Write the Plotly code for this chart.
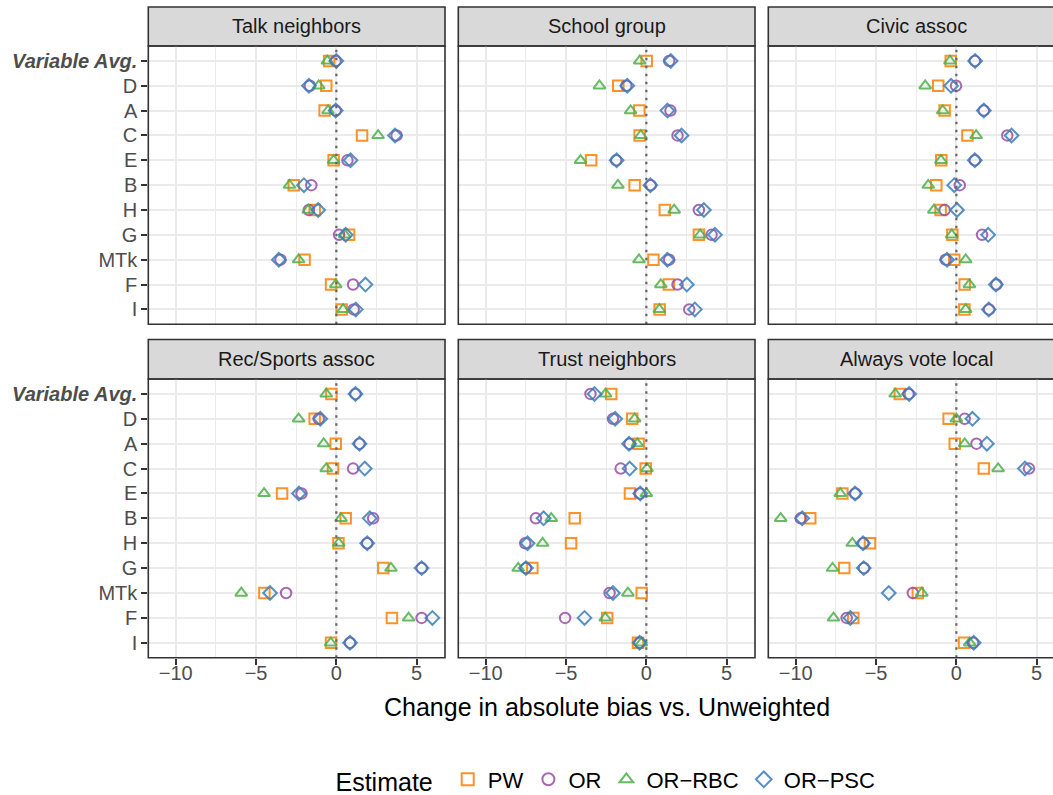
import plotly.graph_objects as go

# ---------------- data ----------------
categories = ["Variable Avg.", "D", "A", "C", "E", "B", "H", "G", "MTk", "F", "I"]
facets = ["Talk neighbors", "School group", "Civic assoc",
          "Rec/Sports assoc", "Trust neighbors", "Always vote local"]
series_names = ["PW", "OR", "OR\u2212RBC", "OR\u2212PSC"]

talk_pw  = [-0.45, -0.63, -0.73, 1.60, -0.17, -2.65, -1.35, 0.79, -1.98, -0.33, 0.33]
talk_or  = [-0.05, -1.65, -0.04, 3.75, 0.69, -1.56, -1.71, 0.17, -3.48, 1.04, 1.08]
talk_rbc = [-0.56, -1.10, -0.52, 2.60, -0.17, -2.92, -1.75, 0.52, -2.35, -0.04, 0.42]
talk_psc = [0.00, -1.71, -0.04, 3.65, 0.88, -2.02, -1.13, 0.58, -3.58, 1.81, 1.21]

school_pw  = [0.02, -1.75, -0.44, -0.42, -3.44, -0.73, 1.15, 3.27, 0.44, 1.40, 0.83]
school_or  = [1.42, -1.25, 1.50, 1.94, -1.88, 0.27, 3.27, 4.06, 1.42, 1.94, 2.67]
school_rbc = [-0.42, -2.92, -0.98, -0.35, -4.10, -1.77, 1.73, 3.35, -0.46, 0.90, 0.81]
school_psc = [1.52, -1.19, 1.31, 2.19, -1.85, 0.25, 3.58, 4.27, 1.31, 2.52, 3.02]

civic_pw  = [-0.35, -1.13, -0.73, 0.69, -0.94, -1.25, -0.98, -0.25, -0.13, 0.52, 0.50]
civic_or  = [1.15, -0.02, 1.71, 3.17, 1.15, 0.21, -0.73, 1.60, -0.67, 2.50, 2.04]
civic_rbc = [-0.40, -1.94, -0.85, 1.23, -0.96, -1.75, -1.40, -0.29, 0.58, 0.81, 0.58]
civic_psc = [1.17, -0.33, 1.71, 3.44, 1.15, -0.13, 0.04, 1.98, -0.58, 2.46, 2.02]

rec_pw  = [-0.31, -1.35, -0.04, -0.21, -3.38, 0.58, 0.13, 2.92, -4.48, 3.46, -0.33]
rec_or  = [1.19, -1.10, 1.44, 1.04, -2.17, 2.29, 1.92, 5.31, -3.13, 5.31, 0.85]
rec_rbc = [-0.63, -2.35, -0.79, -0.63, -4.50, 0.29, 0.15, 3.40, -5.92, 4.50, -0.35]
rec_psc = [1.19, -1.00, 1.44, 1.77, -2.33, 2.08, 1.92, 5.31, -4.13, 5.98, 0.85]

trust_pw  = [-2.19, -0.88, -0.48, -0.04, -1.02, -4.46, -4.69, -7.10, -0.29, -2.44, -0.52]
trust_or  = [-3.48, -2.08, -1.04, -1.60, -0.42, -6.88, -7.54, -7.50, -2.29, -5.06, -0.42]
trust_rbc = [-2.54, -0.73, -0.56, 0.04, 0.00, -5.92, -6.46, -7.98, -1.15, -2.56, -0.31]
trust_psc = [-3.23, -1.94, -1.08, -1.04, -0.38, -6.40, -7.40, -7.50, -2.08, -3.85, -0.42]

vote_pw  = [-3.52, -0.48, -0.10, 1.71, -7.10, -9.10, -5.38, -6.98, -2.40, -6.42, 0.48]
vote_or  = [-2.98, 0.52, 1.25, 4.52, -6.29, -9.69, -5.79, -5.75, -2.71, -6.83, 1.04]
vote_rbc = [-3.81, 0.00, 0.52, 2.60, -7.23, -10.94, -6.48, -7.71, -2.15, -7.65, 0.83]
vote_psc = [-2.94, 1.00, 1.90, 4.27, -6.31, -9.60, -5.81, -5.77, -4.21, -6.60, 1.08]

facet_data = [
    [talk_pw, talk_or, talk_rbc, talk_psc],
    [school_pw, school_or, school_rbc, school_psc],
    [civic_pw, civic_or, civic_rbc, civic_psc],
    [rec_pw, rec_or, rec_rbc, rec_psc],
    [trust_pw, trust_or, trust_rbc, trust_psc],
    [vote_pw, vote_or, vote_rbc, vote_psc],
]

x_tickvals = [-10, -5, 0, 5]
x_ticktext = ["\u221210", "\u22125", "0", "5"]
x_minor = [-7.5, -2.5, 2.5]

# ---------------- styling ----------------
W, H = 1053, 795
colors = ["#FF7F00", "#984EA3", "#4DAF4A", "#377EB8"]
symbols = ["square-open", "circle-open", "triangle-up-open", "diamond-open"]
FONT = "Liberation Sans, Arial, sans-serif"
px_per_unit = 16.06
col_left = [148.3, 458.3, 768.3]
panel_w = 296.7
row_px = [(46.0, 324.3), (379.0, 657.7)]
strip_px = [(7.0, 46.0), (339.5, 379.0)]
xmin = -11.71

fig = go.Figure()

for fi, fname in enumerate(facets):
    r, c = divmod(fi, 3)
    idx = fi + 1
    xa = "x" if idx == 1 else f"x{idx}"
    ya = "y" if idx == 1 else f"y{idx}"
    for si in range(4):
        fig.add_trace(go.Scatter(
            x=facet_data[fi][si], y=categories, mode="markers",
            name=series_names[si], legendgroup=series_names[si],
            showlegend=(fi == 0),
            marker=dict(symbol=symbols[si], size=10.5, color=colors[si],
                        opacity=0.85, line=dict(width=2, color=colors[si])),
            xaxis=xa, yaxis=ya, cliponaxis=False,
        ))

    left = col_left[c]
    right = min(left + panel_w, W)
    xmax = xmin + (right - left) / px_per_unit
    top, bot = row_px[r]
    xkey = "xaxis" if idx == 1 else f"xaxis{idx}"
    ykey = "yaxis" if idx == 1 else f"yaxis{idx}"
    fig.layout[xkey] = dict(
        domain=[left / W, right / W], range=[xmin, xmax], anchor=ya,
        tickmode="array", tickvals=x_tickvals, ticktext=x_ticktext,
        showgrid=True, gridcolor="#EBEBEB", gridwidth=2, zeroline=False,
        showline=False, automargin=False,
        minor=dict(tickvals=x_minor, showgrid=True, gridcolor="#EBEBEB",
                   gridwidth=1.2, ticks=""),
        ticks="outside" if r == 1 else "", ticklen=6, tickwidth=1.5,
        tickcolor="#333333", showticklabels=(r == 1),
        ticklabelstandoff=-9,
        tickfont=dict(family=FONT, size=20, color="#4D4D4D"),
    )
    fig.layout[ykey] = dict(
        domain=[1 - bot / H, 1 - top / H], anchor=xa, type="category",
        categoryorder="array", categoryarray=categories,
        range=[10.6, -0.6], tickmode="array", tickvals=categories,
        ticktext=["<b><i>Variable Avg.</i></b>"] + categories[1:],
        showgrid=True, gridcolor="#EBEBEB", gridwidth=2, zeroline=False,
        showline=False, automargin=False,
        ticks="outside" if c == 0 else "", ticklen=6, tickwidth=1.5,
        tickcolor="#333333", showticklabels=(c == 0),
        tickfont=dict(family=FONT, size=20, color="#4D4D4D"),
    )

    # dotted reference line at zero
    fig.add_shape(type="line", xref=xa, yref="paper", x0=0, x1=0,
                  y0=1 - bot / H, y1=1 - top / H, layer="above",
                  line=dict(color="#666666", width=2.2, dash="2.5px,5.5px"))
    # panel border (right side of last column is cut by image edge)
    pr = left + panel_w
    fig.add_shape(type="rect", xref="paper", yref="paper",
                  x0=left / W, x1=pr / W, y0=1 - bot / H, y1=1 - top / H,
                  line=dict(color="#333333", width=1.6),
                  layer="above")
    # strip
    s0, s1 = strip_px[r]
    fig.add_shape(type="rect", xref="paper", yref="paper",
                  x0=left / W, x1=pr / W, y0=1 - s1 / H, y1=1 - s0 / H,
                  line=dict(color="#333333", width=1.6), fillcolor="#D9D9D9",
                  layer="below")
    fig.add_annotation(text=fname, xref="paper", yref="paper",
                       x=(left + pr) / 2 / W, y=1 - (s0 + s1) / 2 / H,
                       showarrow=False, xanchor="center", yanchor="middle",
                       font=dict(family=FONT, size=20, color="#1A1A1A"))

# x-axis title
fig.add_annotation(text="Change in absolute bias vs. Unweighted",
                   xref="paper", yref="paper",
                   x=(col_left[0] + col_left[2] + panel_w) / 2 / W,
                   y=1 - 707 / H, showarrow=False, xanchor="center",
                   yanchor="middle",
                   font=dict(family=FONT, size=25, color="#000000"))

fig.update_layout(
    width=W, height=H, margin=dict(l=0, r=0, t=0, b=0, autoexpand=False),
    paper_bgcolor="white", plot_bgcolor="white",
    font=dict(family=FONT, color="#000000"),
    legend=dict(orientation="h", x=607 / W, xanchor="center",
                y=1 - 780 / H, yanchor="middle",
                title=dict(text="Estimate ", side="left",
                           font=dict(family=FONT, size=25, color="#000000")),
                font=dict(family=FONT, size=22, color="#000000"),
                bgcolor="rgba(0,0,0,0)", itemsizing="constant"),
)

fig.write_html("out.html")
